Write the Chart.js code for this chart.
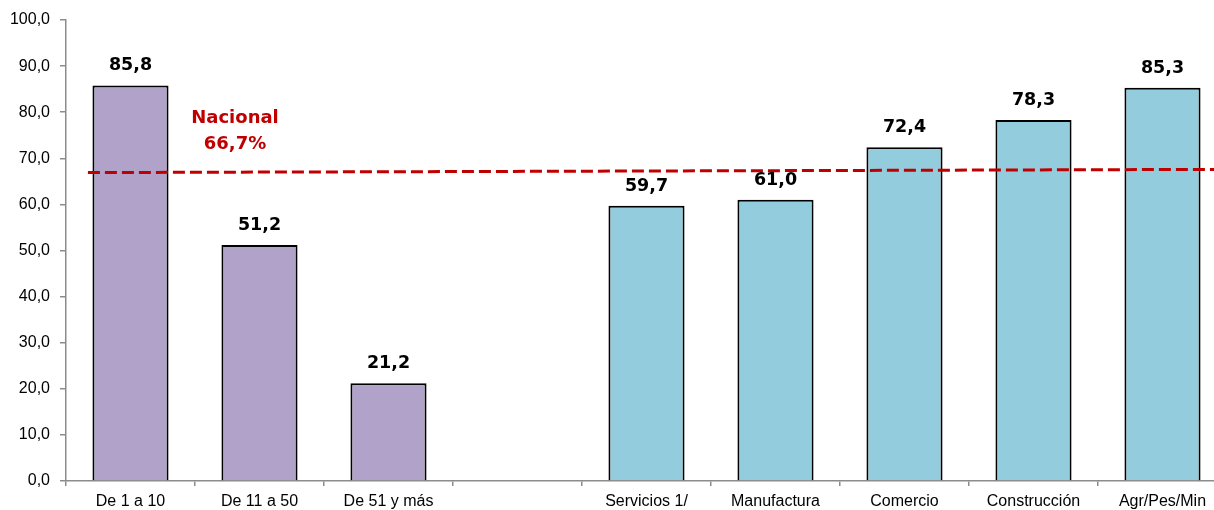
<!DOCTYPE html>
<html>
<head>
<meta charset="utf-8">
<script src="https://cdn.jsdelivr.net/npm/chart.js@4/dist/chart.umd.min.js"></script>
<style>
  html, body { margin: 0; padding: 0; background: #fff; overflow: hidden; }
  #wrap { position: relative; width: 1240px; height: 510px; }
</style>
</head>
<body>
<div id="wrap"><canvas id="c"></canvas></div>
<script>
const categories = ['De 1 a 10', 'De 11 a 50', 'De 51 y más', '', 'Servicios 1/', 'Manufactura', 'Comercio', 'Construcción', 'Agr/Pes/Min'];
const values = [85.8, 51.2, 21.2, null, 59.7, 61.0, 72.4, 78.3, 85.3];
const groups = ['size', 'size', 'size', 'none', 'sector', 'sector', 'sector', 'sector', 'sector'];
const nationalX = [0.17, 9];
const nationalY = [66.9, 67.6];
const nationalLabel = ['Nacional', '66,7%'];
const yTicks = [0, 10, 20, 30, 40, 50, 60, 70, 80, 90, 100];

const groupColors = { size: '#B1A2C9', sector: '#93CDDD', none: '#ffffff' };

const fmt = v => v.toFixed(1).replace('.', ',');

const labelPlugin = {
  id: 'labels',
  afterDatasetsDraw(chart) {
    const ctx = chart.ctx;
    const meta = chart.getDatasetMeta(0);
    ctx.save();
    ctx.font = 'bold 17.5px "DejaVu Sans"';
    ctx.fillStyle = '#000';
    ctx.textAlign = 'center';
    ctx.textBaseline = 'bottom';
    meta.data.forEach((bar, i) => {
      if (values[i] == null) return;
      ctx.fillText(fmt(values[i]), bar.x, bar.y - 11);
    });
    // Nacional annotation
    const x2 = chart.scales.x2, y = chart.scales.y;
    ctx.font = 'bold 18px "DejaVu Sans"';
    ctx.fillStyle = '#C00000';
    ctx.textBaseline = 'middle';
    ctx.fillText(nationalLabel[0], x2.getPixelForValue(1.31), y.getPixelForValue(78.7));
    ctx.fillText(nationalLabel[1], x2.getPixelForValue(1.31), y.getPixelForValue(73.0));
    ctx.restore();
  }
};

new Chart(document.getElementById('c'), {
  type: 'bar',
  data: {
    labels: categories,
    datasets: [{
      data: values,
      backgroundColor: groups.map(g => groupColors[g]),
      borderColor: '#000',
      borderWidth: 2,
      barPercentage: 0.59,
      categoryPercentage: 1,
      grouped: false,
      order: 2
    }, {
      type: 'line',
      xAxisID: 'x2',
      data: nationalX.map((x, i) => ({ x: x, y: nationalY[i] })),
      borderColor: '#C00000',
      borderWidth: 3,
      borderDash: [12, 5],
      pointRadius: 0,
      fill: false,
      order: 1
    }]
  },
  plugins: [labelPlugin],
  options: {
    responsive: true,
    maintainAspectRatio: false,
    animation: false,
    layout: { padding: { top: 20, right: 13, left: 0, bottom: 0 } },
    plugins: { legend: { display: false }, tooltip: { enabled: false } },
    scales: {
      x: {
        grid: { display: true, drawOnChartArea: false, offset: true, color: '#8c8c8c', tickLength: 5, lineWidth: 1.5 },
        border: { display: true, color: '#8c8c8c', width: 1.5 },
        ticks: { color: '#000', font: { family: '"Liberation Sans"', size: 16 }, padding: 6, maxRotation: 0, autoSkip: false },
        afterFit(s) { s.height = 29; }
      },
      x2: {
        type: 'linear', display: false, min: 0, max: 9, offset: false,
        grid: { offset: false }
      },
      y: {
        min: 0, max: 100,
        afterBuildTicks(s) { s.ticks = yTicks.map(v => ({ value: v })); },
        grid: { display: true, drawOnChartArea: false, color: '#8c8c8c', tickLength: 6, lineWidth: 1.5 },
        border: { display: true, color: '#8c8c8c', width: 1.5 },
        ticks: { color: '#000', font: { family: '"Liberation Sans"', size: 16 }, padding: 10, callback: v => fmt(v) },
        afterFit(s) { s.width = 66; }
      }
    }
  }
});
</script>
</body>
</html>
